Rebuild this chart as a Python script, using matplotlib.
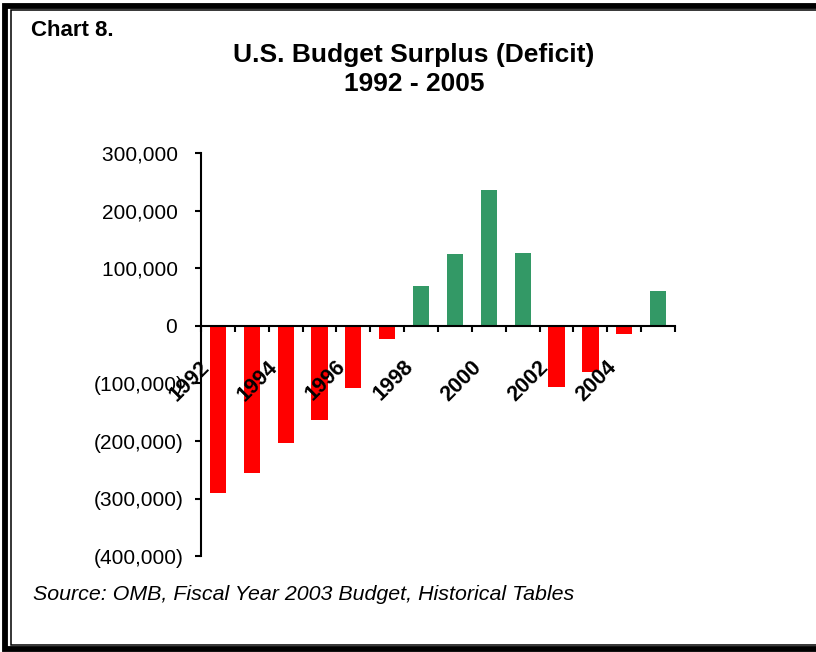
import numpy as np
import matplotlib
matplotlib.use('Agg')
import matplotlib.pyplot as plt
from matplotlib.transforms import offset_copy
from matplotlib.lines import Line2D

plt.rcParams['font.family'] = ['Liberation Sans', 'DejaVu Sans']

# surplus / deficit, millions of dollars (2002-2005 are budget estimates)
years = [1992, 1993, 1994, 1995, 1996, 1997, 1998, 1999, 2000, 2001, 2002, 2003, 2004, 2005]
surplus = [-290321, -255051, -203186, -163952, -107431, -21884, 69270,
           125610, 236241, 127104, -106184, -80203, -14450, 61279]
year_labels = ['1992', '1994', '1996', '1998', '2000', '2002', '2004']
yticks = [300000, 200000, 100000, 0, -100000, -200000, -300000, -400000]

def fmt(v):
    if v < 0:
        return '({:,})'.format(-v)
    return '{:,} '.format(v)

fig = plt.figure(figsize=(8.16, 6.52), dpi=100)
ax = fig.add_axes([0.2463, 0.147, 0.581, 0.618])

x = np.arange(len(years)) + 0.5
colors = ['#ff0000' if v < 0 else '#339966' for v in surplus]
ax.bar(x, surplus, width=0.48, color=colors, zorder=2)

ax.set_xlim(0, len(years))
ax.set_ylim(-400000, 300000)
ax.set_yticks(yticks)
ax.set_yticklabels([fmt(v) for v in yticks], fontsize=15)
ax.set_xticks(np.arange(len(years) + 1))
ax.set_xticklabels([])

for s in ['top', 'right']:
    ax.spines[s].set_visible(False)
ax.spines['bottom'].set_position(('data', 0))
ax.spines['bottom'].set_linewidth(1.5)
ax.spines['left'].set_linewidth(1.5)
ax.spines['bottom'].set_zorder(3)
ax.tick_params(axis='both', direction='out', length=4.5, width=1.5, colors='black')
ax.tick_params(axis='y', pad=8)

# rotated year labels below the zero line, every other year
trans = offset_copy(ax.transData, fig=fig, x=-11, y=-38, units='dots')
for lab in year_labels:
    i = years.index(int(lab))
    ax.text(x[i], 0, lab, transform=trans, rotation=45, rotation_mode='anchor',
            ha='right', va='center', fontsize=15.5, fontweight='bold')

fig.text(31/816, 1 - 30/652, 'Chart 8.', fontsize=16, fontweight='bold',
         ha='left', va='center')
fig.text(414/816, 1 - 55/652, 'U.S. Budget Surplus (Deficit)', fontsize=19,
         fontweight='bold', ha='center', va='center')
fig.text(414/816, 1 - 84/652, '1992 - 2005', fontsize=19,
         fontweight='bold', ha='center', va='center')
fig.text(33/816, 1 - 594/652, 'Source: OMB, Fiscal Year 2003 Budget, Historical Tables',
         fontsize=15.4, style='italic', ha='left', va='center')

# double frame around the chart, running off the right edge
W, H = 816.0, 652.0
def frame(x0, y0, y1, lw):
    xs = [1.05, x0 / W, x0 / W, 1.05]
    ys = [1 - y0 / H, 1 - y0 / H, 1 - y1 / H, 1 - y1 / H]
    fig.add_artist(Line2D(xs, ys, transform=fig.transFigure, color='black',
                          lw=lw, solid_joinstyle='miter'))
frame(5, 5.5, 649, 4.2)
frame(10.5, 10, 645, 1.1)

fig.savefig('out.png', dpi=100)
